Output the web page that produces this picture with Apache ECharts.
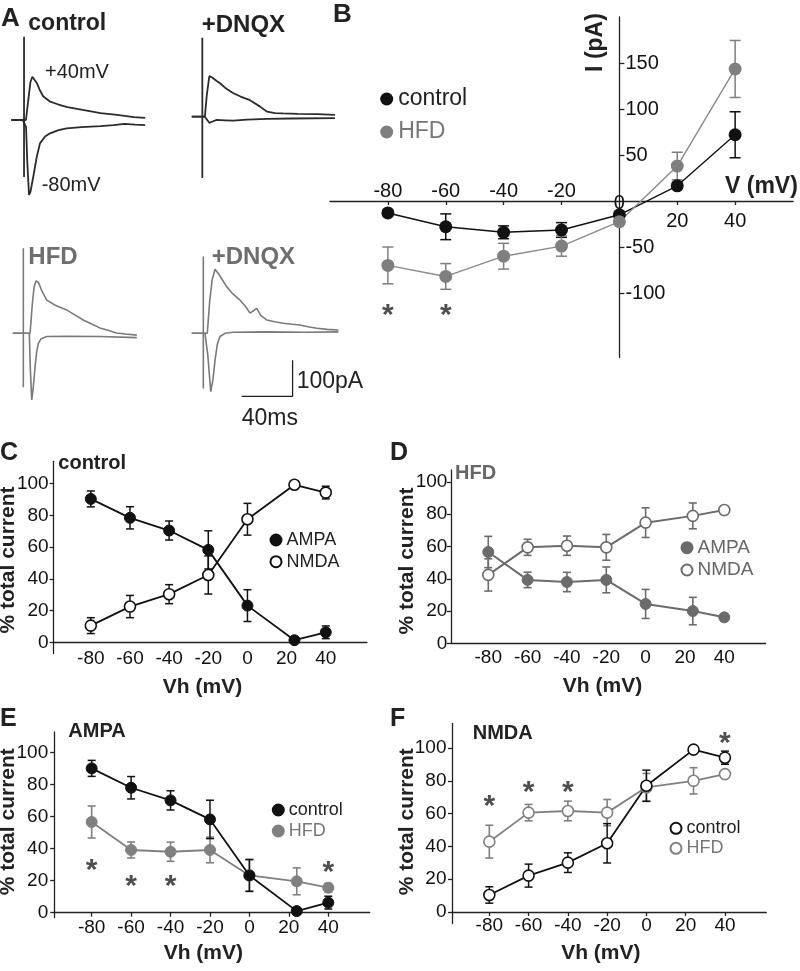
<!DOCTYPE html>
<html><head><meta charset="utf-8">
<script src="https://cdn.jsdelivr.net/npm/echarts@6/dist/echarts.min.js"></script>
<style>html,body{margin:0;padding:0;background:#fff;}#c{width:800px;height:971px;}</style>
</head><body><div id="c"></div>
<script>
// ===== Panel A: example traces, [time ms from stimulus, current pA] =====
const ctrlP40 = [[-10,0],[-1,0],[1.5,0],[3.5,60],[5,105],[6.5,120],[8,116],[10,103],[12.5,82],[15,66],[20,52],[27,43],[34,36],[46,28],[60,19],[73,14],[86,8],[95,6]];
const ctrlM80 = [[-10,0],[-1,0],[1.6,-20],[2.6,-120],[3.9,-208],[5,-200],[7.3,-157],[10,-102],[12.5,-65],[16.5,-46],[20.4,-37],[27,-28],[33.5,-23],[45,-20],[60,-17],[70,-14],[79,-11],[87,-13],[95,-14]];
const ctrlArt = [[0,231],[0,-158]];
const dnqxP40 = [[-8.3,0],[-1,0],[2,0],[3.5,60],[5.5,113],[8,108],[11,100],[13.9,93],[18,80],[24,66],[30,56],[37.4,46],[45.3,28],[50.8,14],[57,10],[63.3,9],[75,8],[90,7],[104,5]];
const dnqxM80 = [[-8.3,0],[-1,0],[2,0],[4,-10],[5.5,-17],[7.5,-14],[11.3,-9],[18,-10],[24,-11],[35,-8],[50.8,-6],[70,-5],[104,-4]];
const dnqxArt = [[0,219],[0,-170]];
const hfdP40 = [[-8.3,0],[-1,0],[5.3,0],[7,80],[8.5,130],[10,146],[12,140],[14.5,118],[18.4,92],[25,78],[34,65],[40,52],[47,37],[54,25],[60,15],[67,8],[73,1],[80,-2],[89,-5]];
const hfdM80 = [[-8.3,0],[-1,0],[4.7,0],[5.5,-100],[6.6,-185],[7.8,-150],[9.2,-93],[10.5,-50],[11.8,-28],[14,-15],[18.4,-9],[34,-8],[60,-9],[89,-12]];
const hfdArt = [[0,236],[0,-150]];
const hdnqxP40 = [[-9.1,0],[-1,0],[3.1,0],[5,90],[7,150],[9.2,178],[12,165],[15,148],[18.4,129],[23,110],[28.8,92],[33,75],[36.6,56],[39,62],[41.9,69],[45,50],[49.7,37],[56,32],[62.7,28],[70,25],[75.8,23],[82,18],[89,14],[97,11],[106,9]];
const hdnqxM80 = [[-9.1,0],[-1,0],[1.3,0],[3.5,-60],[5.8,-162],[7.5,-130],[9.2,-74],[11,-30],[13.1,-9],[17,0],[23.5,3],[49.7,4],[80,3],[106,4]];
const hdnqxArt = [[0,213],[0,-153]];
const scaleBar = [[30,-175],[70,-175],[70,-75]];

// ===== Panel B: I-V =====
const ivV = [-80,-60,-40,-20,0,20,40];
const ivCtrl = [-13,-28,-34,-31.5,-15,16.5,72];
const ivCtrlErr = [3,14,7,8,3,3,25];
const ivHfd = [-70,-82,-60,-49,-22.5,38,143.5];
const ivHfdErr = [20,14,14,11,3,15,31];
const ivStars = [[-80,-117],[-60,-117]];
const ivYTicks = [-100,-50,50,100,150];
const ivXNegLabels = [-80,-60,-40,-20];
const ivXPosLabels = [20,40];
const ivXTicks = [-80,-60,-40,-20,20,40];

// ===== Panels C-F: % total current vs Vh =====
const vh = [-80,-60,-40,-20,0,24,40];
const vhTicks = [-80,-60,-40,-20,0,20,40];
const pctTicks = [0,20,40,60,80,100];
// C (control)
const cAmpa = [90.3,78.4,70.4,58.2,23.1,1.3,6.3];
const cAmpaErr = [5,7,6,12,10,0,4];
const cNmda = [10.5,22.5,30.3,42.4,77.5,99.2,94.3];
const cNmdaErr = [5,7,6,12,10,0,4];
// D (HFD)
const dAmpa = [56.6,39.3,38,39.3,24.4,20,16.1];
const dAmpaErr = [9.7,4.8,6,8,9,8.5,2];
const dNmda = [42.4,59.5,60.5,59.5,74.8,79,82.6];
const dNmdaErr = [10,5,6,8,9.2,8,2];
// E (AMPA)
const eCtrl = [90.2,78.1,70.2,58.3,23.3,1,6.3];
const eCtrlErr = [5,7,6,12,10,0,4];
const eHfd = [56.7,39.2,38.1,39.2,23.3,19.6,15.6];
const eHfdErr = [10,5,6,8,9.8,8.4,2.7];
const eStars = [[-80,30.4],[-60,20.8],[-40,20.8],[40,29.4]];
// F (NMDA)
const fCtrl = [10.4,22.2,30.1,41.9,77,99,94.1];
const fCtrlErr = [5,7,6,12,9.5,0,4];
const fHfd = [42.9,60.6,61.6,60.6,76,80,84.1];
const fHfdErr = [10,5,6,8,8.5,8,2];
const fStars = [[-80,68.3],[-60,77],[-40,77],[40,107]];

// ===== styling / helpers =====
const FONT = 'Liberation Sans, Arial, Helvetica, sans-serif';
const INK = '#222';
const BLACK = '#111';
const GREY_T = '#7a7a7a';

function trace(data, idx, color, w) {
  return {type:'line', xAxisIndex:idx, yAxisIndex:idx, data, symbol:'none', showSymbol:false,
    lineStyle:{color, width:w}, silent:true, z:2, animation:false};
}
function lineSer(name, xi, yi, xs, ys, o) {
  return {type:'line', name, xAxisIndex:xi, yAxisIndex:yi, data: xs.map((x,i)=>[x,ys[i]]),
    symbol:'circle', symbolSize:o.size, showSymbol:true,
    itemStyle:{color:o.fill, borderColor:o.stroke, borderWidth:o.bw},
    lineStyle:{color:o.line, width:o.lw}, z:3, silent:true};
}
function errSer(xi, yi, xs, ys, es, color, cap, lw) {
  const d = [];
  xs.forEach((x,i)=>{ if (es[i] > 0) d.push([x, ys[i]-es[i], ys[i]+es[i]]); });
  return {type:'custom', xAxisIndex:xi, yAxisIndex:yi, data:d, z:2, silent:true,
    encode:{x:0, y:[1,2]},
    renderItem:(params, api)=>{
      const lo = api.coord([api.value(0), api.value(1)]);
      const hi = api.coord([api.value(0), api.value(2)]);
      const st = {stroke:color, lineWidth:lw, fill:null};
      return {type:'group', children:[
        {type:'line', shape:{x1:lo[0],y1:lo[1],x2:hi[0],y2:hi[1]}, style:st},
        {type:'line', shape:{x1:lo[0]-cap,y1:lo[1],x2:lo[0]+cap,y2:lo[1]}, style:st},
        {type:'line', shape:{x1:hi[0]-cap,y1:hi[1],x2:hi[0]+cap,y2:hi[1]}, style:st}
      ]};
    }};
}
function starSer(xi, yi, pts) {
  return {type:'scatter', xAxisIndex:xi, yAxisIndex:yi, data:pts, symbolSize:1,
    itemStyle:{color:'rgba(0,0,0,0)'}, silent:true, z:5,
    label:{show:true, position:'inside', formatter:'*', fontSize:30, fontWeight:'bold', fontFamily:FONT, color:INK, offset:[0,7]}};
}
function T(text, x, y, size, o) {
  o = o || {};
  return {type:'text', x, y, rotation:o.rot||0, silent:true,
    style:{text, fontFamily:FONT, fontSize:size, fontWeight:o.bold?'bold':'normal',
      fill:o.color||INK, align:o.align||'left', verticalAlign:'middle'}};
}
const lbl = (extra) => Object.assign({fontSize:19, fontFamily:FONT, color:BLACK}, extra);
const axLine = (extra) => Object.assign({lineStyle:{color:INK, width:1.3}}, extra);

// ===== grids =====
const grids = [
  {left:4.9, top:12, width:159.4, height:198},
  {left:183.2, top:8.7, width:159.4, height:198},
  {left:4.2, top:225.3, width:159.4, height:198},
  {left:184.2, top:225.3, width:159.4, height:198},
  {left:330, top:17, width:463, height:340.4},
  {left:53.6, top:461.3, width:313.3, height:192.1},
  {left:450.9, top:469.9, width:314.7, height:173.4},
  {left:54.2, top:731.9, width:315.5, height:185.6},
  {left:452, top:723.4, width:314.2, height:200.1}
];

const xAxes = [];
const yAxes = [];
for (let i = 0; i < 4; i++) {
  xAxes.push({gridIndex:i, type:'value', min:-15, max:110, show:false});
  yAxes.push({gridIndex:i, type:'value', min:-250, max:300, show:false});
}
// B axes: crossing at the origin (offsets move them from grid edges to the zero lines)
const bXTop = -184;      // grid top -> I = 0
const bXBottom = -156.4; // grid bottom -> I = 0
const bYLeft = -289.4;   // grid left -> V = 0
xAxes.push({gridIndex:4, type:'value', min:-100, max:60, position:'top', offset:bXTop,
  axisLine:axLine({onZero:false}), axisTick:{show:false},
  axisLabel:lbl({customValues:ivXNegLabels, margin:0, fontSize:20}), splitLine:{show:false}}); // 4
xAxes.push({gridIndex:4, type:'value', min:-100, max:60, position:'bottom', offset:bXBottom,
  axisLine:{show:false, onZero:false},
  axisTick:{show:true, customValues:ivXTicks, length:4, lineStyle:{color:INK, width:1.3}},
  axisLabel:lbl({customValues:ivXPosLabels, margin:10, fontSize:20}), splitLine:{show:false}}); // 5
xAxes.push({gridIndex:4, type:'value', min:-100, max:60, position:'bottom', offset:bXBottom,
  axisLine:{show:false, onZero:false}, axisTick:{show:false},
  axisLabel:lbl({customValues:[0], margin:-8, fontSize:20}), splitLine:{show:false}}); // 6
yAxes.push({gridIndex:4, type:'value', min:-170, max:200, position:'left', offset:bYLeft,
  axisLine:axLine({onZero:false}),
  axisTick:{show:true, inside:true, length:5, customValues:ivYTicks, lineStyle:{color:INK, width:1.3}},
  axisLabel:lbl({inside:true, customValues:ivYTicks, margin:6, fontSize:20}), splitLine:{show:false}}); // 4
// C-F axes (x axis lifted to the 0 % line)
const cfSpec = [
  {g:5, ymin:-7, ymax:114, xoff:-11.1, xm:7, ym:5, xt:false},
  {g:6, ymin:0, ymax:107.5, xoff:0, xm:5, ym:3.5, xt:false},
  {g:7, ymin:-3, ymax:113, xoff:-4.8, xm:5.5, ym:6, xt:true},
  {g:8, ymin:-7, ymax:115, xoff:-11.5, xm:4, ym:5.5, xt:true}
];
cfSpec.forEach(s => {
  xAxes.push({gridIndex:s.g, type:'value', min:-99, max:61, position:'bottom', offset:s.xoff,
    axisLine:axLine({onZero:false}),
    axisTick:{show:s.xt, customValues:vhTicks, length:4, lineStyle:{color:INK, width:1.3}},
    axisLabel:lbl({customValues:vhTicks, margin:s.xm}), splitLine:{show:false}});
  yAxes.push({gridIndex:s.g, type:'value', min:s.ymin, max:s.ymax, position:'left',
    axisLine:axLine({onZero:false}),
    axisTick:{show:true, customValues:pctTicks, length:4, lineStyle:{color:INK, width:1.3}},
    axisLabel:lbl({customValues:pctTicks, margin:s.ym}), splitLine:{show:false}});
});
// indices: C x7 y5, D x8 y6, E x9 y7, F x10 y8

const GD = '#6b6b6b';   // panel D grey
const GE = '#808080';   // HFD grey
const series = [
  trace(ctrlP40,0,'#2b2b2b',1.8), trace(ctrlM80,0,'#2b2b2b',1.8), trace(ctrlArt,0,'#2b2b2b',1.8),
  trace(dnqxP40,1,'#2b2b2b',1.8), trace(dnqxM80,1,'#2b2b2b',1.8), trace(dnqxArt,1,'#2b2b2b',1.8),
  trace(hfdP40,2,GREY_T,1.6), trace(hfdM80,2,GREY_T,1.6), trace(hfdArt,2,GREY_T,1.6),
  trace(hdnqxP40,3,GREY_T,1.6), trace(hdnqxM80,3,GREY_T,1.6), trace(hdnqxArt,3,GREY_T,1.6),
  trace(scaleBar,3,INK,1.3),
  // B
  errSer(4,4,ivV,ivCtrl,ivCtrlErr,BLACK,5.5,1.5),
  errSer(4,4,ivV,ivHfd,ivHfdErr,'#7f7f7f',5.5,1.5),
  lineSer('B|control',4,4,ivV,ivCtrl,{size:13,fill:BLACK,stroke:BLACK,bw:0,line:BLACK,lw:1.4}),
  lineSer('B|HFD',4,4,ivV,ivHfd,{size:13,fill:'#7f7f7f',stroke:'#7f7f7f',bw:0,line:'#8a8a8a',lw:1.4}),
  starSer(4,4,ivStars),
  // C
  errSer(7,5,vh,cAmpa,cAmpaErr,BLACK,4,1.5),
  errSer(7,5,vh,cNmda,cNmdaErr,BLACK,4,1.5),
  lineSer('C|AMPA',7,5,vh,cAmpa,{size:11,fill:BLACK,stroke:BLACK,bw:1,line:BLACK,lw:1.8}),
  lineSer('C|NMDA',7,5,vh,cNmda,{size:11,fill:'#fff',stroke:BLACK,bw:1.6,line:BLACK,lw:1.8}),
  // D
  errSer(8,6,vh,dAmpa,dAmpaErr,GD,4,1.6),
  errSer(8,6,vh,dNmda,dNmdaErr,GD,4,1.6),
  lineSer('D|AMPA',8,6,vh,dAmpa,{size:11,fill:GD,stroke:GD,bw:1,line:GD,lw:2}),
  lineSer('D|NMDA',8,6,vh,dNmda,{size:11,fill:'#fff',stroke:GD,bw:1.6,line:GD,lw:2}),
  // E
  errSer(9,7,vh,eHfd,eHfdErr,GE,4,1.6),
  errSer(9,7,vh,eCtrl,eCtrlErr,BLACK,4,1.5),
  lineSer('E|HFD',9,7,vh,eHfd,{size:11,fill:GE,stroke:GE,bw:1,line:GE,lw:1.8}),
  lineSer('E|control',9,7,vh,eCtrl,{size:11,fill:BLACK,stroke:BLACK,bw:1,line:BLACK,lw:1.8}),
  starSer(9,7,eStars),
  // F
  errSer(10,8,vh,fHfd,fHfdErr,GE,4,1.6),
  errSer(10,8,vh,fCtrl,fCtrlErr,BLACK,4,1.5),
  lineSer('F|HFD',10,8,vh,fHfd,{size:11,fill:'#fff',stroke:GE,bw:1.6,line:GE,lw:1.8}),
  lineSer('F|control',10,8,vh,fCtrl,{size:11,fill:'#fff',stroke:BLACK,bw:1.6,line:BLACK,lw:1.8}),
  starSer(10,8,fStars)
];

function legendAt(left, top, names, colors, size, gap, icon) {
  return {orient:'vertical', left, top, padding:0, itemGap:gap, itemWidth:icon, itemHeight:icon,
    icon:'circle', selectedMode:false,
    data: names.map((n,i)=>({name:n, textStyle:{color:colors[i]}})),
    formatter: n => n.split('|')[1],
    textStyle:{fontSize:size, fontFamily:FONT, color:INK}};
}
const legends = [
  legendAt(380.2, 87.5, ['B|control','B|HFD'], [INK,'#777'], 23, 10, 13),
  legendAt(269.5, 531, ['C|AMPA','C|NMDA'], [INK,INK], 18, 3.7, 11),
  legendAt(680.5, 538.2, ['D|AMPA','D|NMDA'], ['#666','#666'], 19, 3.3, 11),
  legendAt(271.8, 801, ['E|control','E|HFD'], [INK,'#777'], 18, 3, 11),
  legendAt(669.5, 819.3, ['F|control','F|HFD'], [INK,'#777'], 18, 2, 11)
];

const R = Math.PI / 2;
const texts = [
  T('A', 1, 18.5, 26, {bold:true}),
  T('control', 28.3, 24, 23, {bold:true}),
  T('+DNQX', 201.7, 25.5, 24, {bold:true}),
  T('+40mV', 45, 72, 20),
  T('-80mV', 41.7, 185, 20),
  T('HFD', 28.3, 257, 24, {bold:true, color:'#6e6e6e'}),
  T('+DNQX', 211.7, 257, 24, {bold:true, color:'#6e6e6e'}),
  T('100pA', 296.7, 382, 23),
  T('40ms', 241.7, 419, 23),
  T('B', 333, 14.5, 26, {bold:true}),
  T('V (mV)', 725, 187, 23, {bold:true}),
  T('I (pA)', 596, 42.5, 23, {bold:true, rot:R, align:'center'}),
  T('C', 0, 453.5, 25, {bold:true}),
  T('control', 58.3, 463, 20, {bold:true}),
  T('D', 390, 453.5, 25, {bold:true}),
  T('HFD', 455, 473.3, 20, {bold:true, color:'#666'}),
  T('E', 0, 719, 25, {bold:true}),
  T('AMPA', 68.3, 731.7, 20, {bold:true}),
  T('F', 390, 719.5, 25, {bold:true}),
  T('NMDA', 472.7, 733.3, 20, {bold:true}),
  T('Vh (mV)', 202.5, 687, 21, {bold:true, align:'center'}),
  T('Vh (mV)', 602.5, 686, 21, {bold:true, align:'center'}),
  T('Vh (mV)', 203.3, 953.5, 21, {bold:true, align:'center'}),
  T('Vh (mV)', 600.8, 953.5, 21, {bold:true, align:'center'}),
  T('% total current', 8.5, 560, 21, {bold:true, rot:R, align:'center'}),
  T('% total current', 407.5, 561, 21, {bold:true, rot:R, align:'center'}),
  T('% total current', 8.5, 821.7, 21, {bold:true, rot:R, align:'center'}),
  T('% total current', 407.5, 821.7, 21, {bold:true, rot:R, align:'center'})
];

const chart = echarts.init(document.getElementById('c'), null, {renderer:'canvas', width:800, height:971});
chart.setOption({
  backgroundColor:'#fff', animation:false,
  textStyle:{fontFamily:FONT},
  grid:grids, xAxis:xAxes, yAxis:yAxes, series, legend:legends,
  graphic:{elements:texts}
});
</script></body></html>
